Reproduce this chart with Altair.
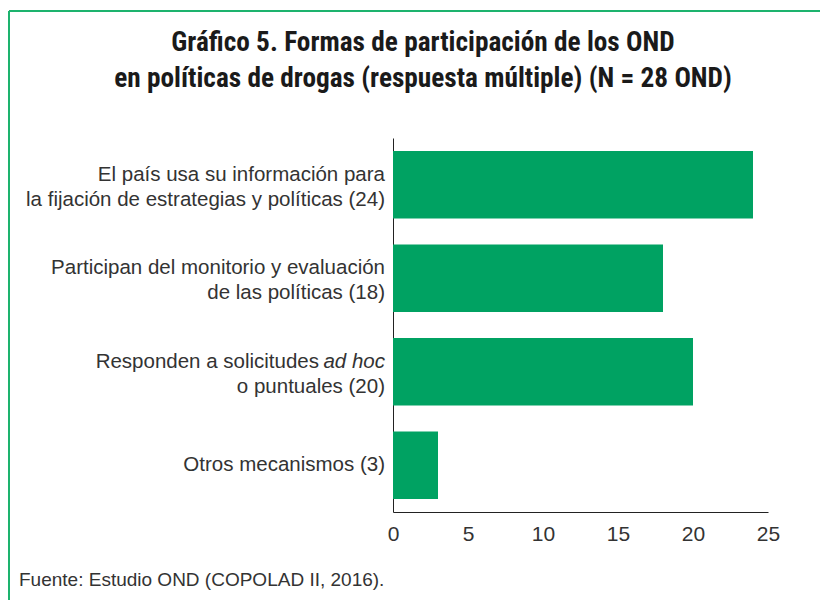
import altair as alt
import pandas as pd

categories = ["c1", "c2", "c3", "c4"]
values = [24, 18, 20, 3]
label_line1 = {"c1": "El país usa su información para",
               "c2": "Participan del monitorio y evaluación"}
label_line2 = {"c1": "la fijación de estrategias y políticas (24)",
               "c2": "de las políticas (18)",
               "c3": "o puntuales (20)"}
label_c3_plain = "Responden a solicitudes"
label_c3_italic = "ad hoc"
label_single = {"c4": "Otros mecanismos (3)"}
x_ticks = [0, 5, 10, 15, 20, 25]
title_lines = ["Gráfico 5. Formas de participación de los OND",
               "en políticas de drogas (respuesta múltiple) (N = 28 OND)"]
source = "Fuente: Estudio OND (COPOLAD II, 2016)."

GREEN = "#00A262"
BORDER = "#1DB36E"
TXT = "#333333"
FONT = "Liberation Sans"
TFONT = "'Roboto Condensed', 'DejaVu Sans Condensed', 'Liberation Sans'"
W, H = 375, 374
FS = 20.5

df = pd.DataFrame({"cat": categories, "value": values})
l1 = pd.DataFrame({"cat": list(label_line1), "text": list(label_line1.values())})
l2 = pd.DataFrame({"cat": list(label_line2), "text": list(label_line2.values())})
ls = pd.DataFrame({"cat": list(label_single), "text": list(label_single.values())})
c3 = pd.DataFrame({"cat": ["c3"]})
one = pd.DataFrame({"k": [0]})

yscale = alt.Scale(domain=categories, paddingInner=0.28, paddingOuter=0.14)
xscale = alt.Scale(domain=[0, 25], nice=False)

bars = alt.Chart(df).mark_bar(color=GREEN).encode(
    x=alt.X("value:Q", scale=xscale,
            axis=alt.Axis(values=x_ticks, title=None, grid=False, ticks=False,
                          domainColor="#222222", labelFont=FONT, labelFontSize=21,
                          labelColor=TXT, labelPadding=11, labelFlush=False)),
    y=alt.Y("cat:N", scale=yscale,
            axis=alt.Axis(labels=False, ticks=False, title=None,
                          domainColor="#222222")),
)


def txt(data, dy, text, dx=0, italic=False):
    kw = dict(align="right", baseline="middle", font=FONT, fontSize=FS,
              color=TXT, dy=dy, dx=dx)
    if italic:
        kw["fontStyle"] = "italic"
    return alt.Chart(data).mark_text(**kw).encode(
        y=alt.Y("cat:N", scale=yscale), x=alt.value(-8), text=text)


lab1 = txt(l1, -10, "text:N")
lab2 = txt(l2, 15, "text:N")
labs = txt(ls, 0, "text:N")
l3a = txt(c3, -10, alt.value(label_c3_plain), dx=-66)
l3b = txt(c3, -10, alt.value(label_c3_italic), italic=True)

t1 = alt.Chart(one).mark_text(align="center", baseline="middle", font=TFONT, fontSize=27.3,
                              fontWeight="bold", color="#1a1a1a").encode(
    x=alt.value(30), y=alt.value(-95), text=alt.value(title_lines[0]))
t2 = alt.Chart(one).mark_text(align="center", baseline="middle", font=TFONT, fontSize=27.3,
                              fontWeight="bold", color="#1a1a1a").encode(
    x=alt.value(30), y=alt.value(-59), text=alt.value(title_lines[1]))

src = alt.Chart(one).mark_text(align="left", baseline="middle", font=FONT, fontSize=19,
                               color=TXT).encode(
    x=alt.value(-374), y=alt.value(442), text=alt.value(source))

top_border = alt.Chart(one).mark_rule(color=BORDER, strokeWidth=2).encode(
    x=alt.value(-384), x2=alt.value(440), y=alt.value(-127))
left_border = alt.Chart(one).mark_rule(color=BORDER, strokeWidth=2).encode(
    x=alt.value(-384), y=alt.value(-127), y2=alt.value(470))

chart = alt.layer(top_border, left_border, bars, lab1, lab2, labs, l3a, l3b,
                  t1, t2, src).properties(
    width=W, height=H,
    autosize=alt.AutoSizeParams(type="none"),
    padding={"left": 385, "top": 130, "right": 52, "bottom": 88},
).configure_view(stroke=None)

chart.save("out.html", embed_options={"renderer": "svg", "actions": False})
